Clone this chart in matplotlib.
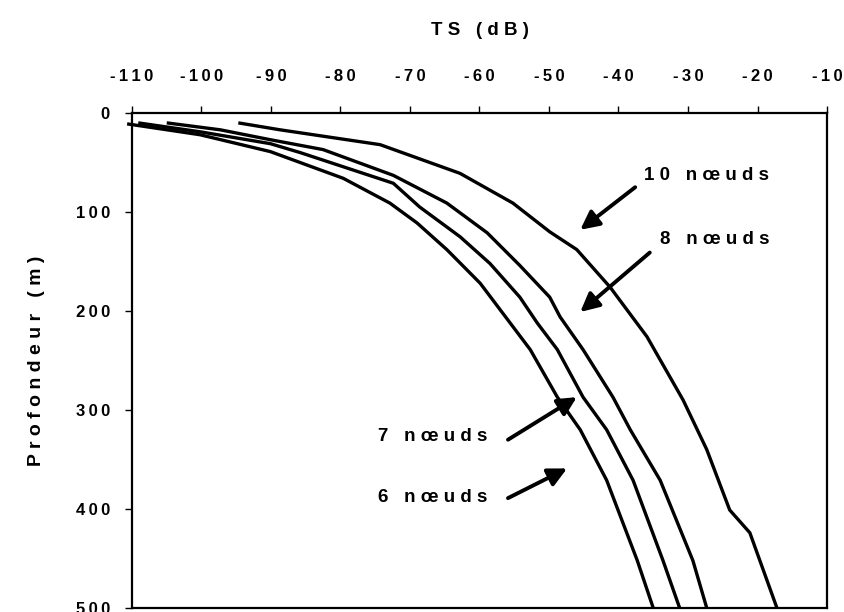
import numpy as np
import matplotlib.pyplot as plt
from matplotlib.ticker import FuncFormatter

plt.rcParams['font.family'] = ['Liberation Sans', 'DejaVu Sans']
plt.rcParams['axes.unicode_minus'] = False

# TS (dB) vs depth (m) for each speed
ts_6 = [-110.7, -100.2, -90.1, -79.6, -72.9, -69.0, -64.7, -59.9, -55.6, -52.7,
        -48.8, -45.5, -41.7, -37.3, -35.0]
z_6 = [11, 22, 39, 66, 91, 111, 138, 172, 212, 239, 287, 320, 371, 452, 500]

ts_7 = [-109.1, -100.2, -90.1, -85.8, -72.4, -68.6, -62.8, -58.5, -54.2, -51.7,
        -48.8, -45.1, -41.7, -37.9, -33.6, -31.2]
z_7 = [10, 19, 31, 40, 71, 95, 125, 152, 186, 212, 239, 287, 320, 371, 452, 500]

ts_8 = [-105.0, -97.3, -90.1, -82.5, -72.4, -64.7, -58.9, -54.2, -49.9, -48.4,
        -45.1, -40.8, -38.3, -34.0, -29.3, -27.3]
z_8 = [10, 17, 27, 37, 63, 91, 121, 154, 186, 206, 239, 287, 320, 371, 452, 500]

ts_10 = [-94.7, -88.7, -74.3, -62.8, -55.2, -49.9, -46.0, -41.2, -35.9, -30.7,
         -27.3, -24.0, -21.1, -17.2]
z_10 = [10, 17, 32, 61, 91, 120, 138, 176, 226, 290, 340, 401, 424, 500]

labels = ['10 nœuds', '8 nœuds', '7 nœuds', '6 nœuds']
label_pos = [(-27.3, 63), (-26.1, 128), (-66.8, 327), (-66.8, 388)]
arrow_tail = [(-37.6, 75), (-35.5, 141), (-55.9, 330), (-55.9, 389)]
arrow_head = [(-45.5, 118), (-45.5, 201), (-46.0, 287), (-47.4, 359)]


def spaced(s, sep=' '):
    # wide letter spacing like the original
    return sep.join(s)


fig = plt.figure(figsize=(8.45, 6.12), dpi=100)
ax = fig.add_axes([0.1562, 0.0065, 0.8225, 0.8089])

for ts, z in [(ts_6, z_6), (ts_7, z_7), (ts_8, z_8), (ts_10, z_10)]:
    ax.plot(ts, z, color='black', lw=2.4, clip_on=False, solid_capstyle='butt')

ax.set_xlim(-110, -10)
ax.set_ylim(500, 0)
ax.set_xticks(np.arange(-110, -9, 10))
ax.set_yticks(np.arange(0, 501, 100))
ax.xaxis.tick_top()
ax.xaxis.set_label_position('top')
fmt = FuncFormatter(lambda v, p: spaced('%d' % v, '\u2009'))
ax.xaxis.set_major_formatter(fmt)
ax.yaxis.set_major_formatter(fmt)
ax.tick_params(axis='both', direction='out', length=5, width=1, labelsize=12)
ax.tick_params(axis='x', pad=16)
ax.tick_params(axis='y', pad=11)
for lab in ax.get_xticklabels() + ax.get_yticklabels():
    lab.set_fontweight('bold')
for s in ax.spines.values():
    s.set_linewidth(1.6)

ax.set_xlabel(spaced('TS (dB)'), fontsize=13.5, fontweight='bold', labelpad=24)
ax.set_ylabel(spaced('Profondeur (m)'), fontsize=14, fontweight='bold', labelpad=22)

for text, pos, tail, head in zip(labels, label_pos, arrow_tail, arrow_head):
    ax.text(pos[0], pos[1], spaced(text), fontsize=13.5, fontweight='bold',
            ha='center', va='center')
    ax.annotate('', xy=head, xytext=tail,
                arrowprops=dict(arrowstyle='-|>', color='black', lw=2.8,
                                mutation_scale=28, shrinkA=0, shrinkB=0))

plt.savefig('out.png', dpi=100)
